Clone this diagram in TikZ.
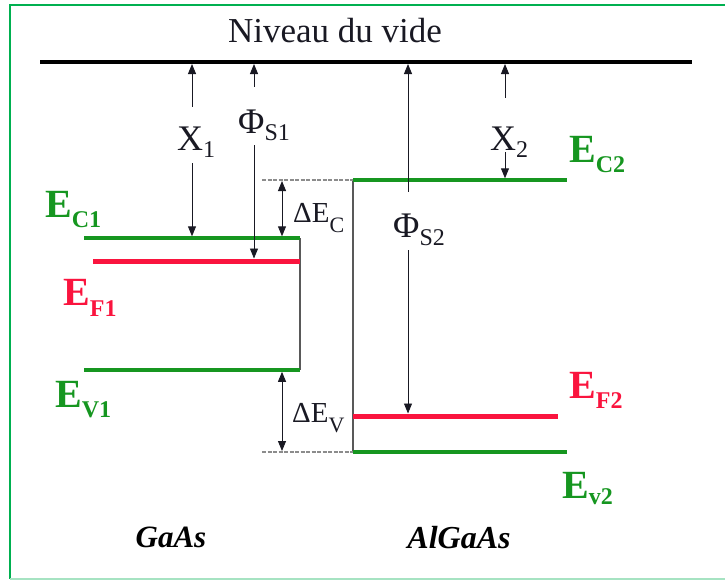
\documentclass[tikz,border=0pt]{standalone}
\usepackage{fontspec}
\setmainfont{Liberation Serif}
\usepackage{graphicx}
\usetikzlibrary{arrows.meta}
\definecolor{lvgreen}{RGB}{22,150,32}
\definecolor{lvred}{RGB}{250,20,62}
\definecolor{framegreen}{RGB}{0,176,80}
\definecolor{inkdark}{RGB}{25,25,35}
\newcommand{\fsz}[1]{\fontsize{#1}{#1}\selectfont}
\newcommand{\bandlab}[3]{{\fsz{40}\bfseries #1}\raisebox{#3}{\fsz{24}\bfseries #2}}
\newcommand{\dimlab}[4]{{\fsz{#1}#2}\raisebox{#4}{\fsz{24}#3}}
\begin{document}
\begin{tikzpicture}[x=1pt,y=-1pt,
  tt/.tip={Triangle[length=10pt,width=8pt]},
  vac/.style={line width=4pt,black},
  band/.style={lvgreen,line width=3.5pt},
  fermi/.style={lvred,line width=5pt},
  wall/.style={black!65,line width=1.1pt},
  dashline/.style={black!45,line width=1.2pt,dash pattern=on 4pt off 1.5pt},
  dimline/.style={inkdark,line width=0.9pt},
  lab/.style={inner sep=0pt,anchor=base west,text=inkdark},
  glab/.style={inner sep=0pt,anchor=base west,text=lvgreen},
  rlab/.style={inner sep=0pt,anchor=base west,text=lvred},
  mat/.style={inner sep=0pt,anchor=base,text=black}
]
\useasboundingbox (0,0) rectangle (725,581);
% frame
\draw[framegreen,line width=1.5pt] (725,5) -- (10,5) -- (10,579);
\draw[framegreen!35,line width=1.5pt] (10,579) -- (725,579);

% coordinates
\coordinate (vacL) at (40,62);
\coordinate (vacR) at (692,62);
\coordinate (ec1L) at (84,238);  \coordinate (ec1R) at (300,238);
\coordinate (ef1L) at (93,261);  \coordinate (ef1R) at (300,261);
\coordinate (ev1L) at (84,370);  \coordinate (ev1R) at (300,370);
\coordinate (ec2L) at (353,180); \coordinate (ec2R) at (567,180);
\coordinate (ef2L) at (353,416); \coordinate (ef2R) at (558,416);
\coordinate (ev2L) at (353,452); \coordinate (ev2R) at (567,452);
\coordinate (dcL) at (262,180);
\coordinate (dvL) at (262,452);

% walls and dashed references
\draw[wall] (ec1R) -- (ev1R);
\draw[wall] (ec2L) -- (ev2L);
\draw[dashline] (dcL) -- (ec2L);
\draw[dashline] (dvL) -- (ev2L);

% vacuum level
\draw[vac] (vacL) -- (vacR);
\node[inner sep=0pt,anchor=base,text=inkdark,font=\fsz{35}] (niv) at (335,42) {Niveau du vide};

% levels
\draw[band] (ec1L) -- (ec1R);
\draw[fermi] (ef1L) -- (ef1R);
\draw[band] (ev1L) -- (ev1R);
\draw[band] (ec2L) -- (ec2R);
\draw[fermi] (ef2L) -- (ef2R);
\draw[band] (ev2L) -- (ev2R);

% arrow end coordinates
\coordinate (x1t) at (192,64);  \coordinate (x1a) at (192,107); \coordinate (x1b) at (192,163); \coordinate (x1e) at (192,236.3);
\coordinate (p1t) at (254,64);  \coordinate (p1a) at (254,87);  \coordinate (p1b) at (254,145); \coordinate (p1e) at (254,258.5);
\coordinate (p2t) at (408,64);  \coordinate (p2a) at (408,192); \coordinate (p2b) at (408,250); \coordinate (p2e) at (408,413.5);
\coordinate (x2t) at (505,64);  \coordinate (x2a) at (505,98);  \coordinate (x2b) at (505,152); \coordinate (x2e) at (505,178.3);
\coordinate (dct) at (282,181); \coordinate (dcb) at (282,236.3);
\coordinate (dvt) at (282,371.8); \coordinate (dvb) at (282,451);

\draw[dimline,tt-] (x1t) -- (x1a);
\draw[dimline,-tt] (x1b) -- (x1e);
\draw[dimline,tt-] (p1t) -- (p1a);
\draw[dimline,-tt] (p1b) -- (p1e);
\draw[dimline,tt-] (p2t) -- (p2a);
\draw[dimline,-tt] (p2b) -- (p2e);
\draw[dimline,tt-] (x2t) -- (x2a);
\draw[dimline,-tt] (x2b) -- (x2e);
\draw[dimline,tt-tt] (dct) -- (dcb);
\draw[dimline,tt-tt] (dvt) -- (dvb);

% dimension labels
\node[lab] (labx1) at (177,150) {\dimlab{36}{X}{1}{-7pt}};
\node[lab] (labp1) at (238,133) {\dimlab{36}{Φ}{S1}{-7pt}};
\node[lab] (labp2) at (393,237) {\dimlab{36}{Φ}{S2}{-8pt}};
\node[lab] (labx2) at (490,150) {\dimlab{36}{X}{2}{-7pt}};
\node[lab] (labdc) at (293,222) {{\fsz{29}ΔE}\raisebox{-10pt}{\fsz{22}C}};
\node[lab] (labdv) at (292,422) {{\fsz{29}ΔE}\raisebox{-10pt}{\fsz{22}V}};

% band labels
\node[glab] (lec1) at (45,217) {\bandlab{E}{C1}{-10pt}};
\node[rlab] (lef1) at (63,305) {\bandlab{E}{F1}{-11pt}};
\node[glab] (lev1) at (55,407) {\bandlab{E}{V1}{-10pt}};
\node[glab] (lec2) at (569,162) {\bandlab{E}{C2}{-10pt}};
\node[rlab] (lef2) at (569,398) {\bandlab{E}{F2}{-10pt}};
\node[glab] (lev2) at (562,498) {\bandlab{E}{v2}{-6pt}};

% materials
\node[mat,font=\fsz{31}\bfseries\itshape] (gaas) at (171,547) {GaAs};
\node[mat,font=\fsz{32}\bfseries\itshape] (algaas) at (459,548) {AlGaAs};
\end{tikzpicture}
\end{document}
